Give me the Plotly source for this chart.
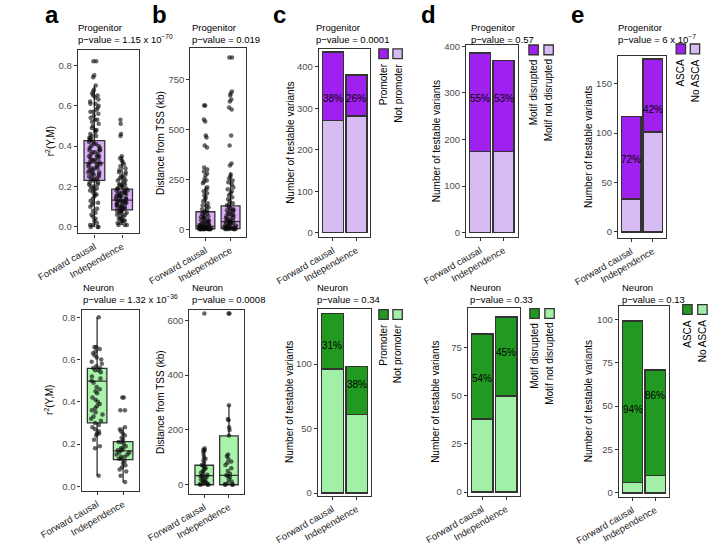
import plotly.graph_objects as go

W, H = 709, 546
FONT = "Liberation Sans, Arial, sans-serif"

cats = ["Forward causal", "Independence"]

# ---------------- panel a : r2(Y,M) ----------------
a_prog_fc = [0.82, 0.82, 0.75, 0.74, 0.70, 0.68, 0.67, 0.66, 0.65, 0.65, 0.64, 0.63, 0.62, 0.61, 0.61,
             0.60, 0.59, 0.58, 0.57, 0.57, 0.56, 0.55, 0.54, 0.53, 0.53, 0.52, 0.51, 0.50, 0.49, 0.48,
             0.48, 0.47, 0.46, 0.45, 0.45, 0.44, 0.43, 0.43, 0.42, 0.42, 0.41, 0.41, 0.40, 0.40, 0.39,
             0.39, 0.38, 0.38, 0.37, 0.37, 0.36, 0.36, 0.35, 0.35, 0.34, 0.34, 0.33, 0.33, 0.32, 0.32,
             0.31, 0.31, 0.30, 0.30, 0.29, 0.29, 0.28, 0.28, 0.27, 0.27, 0.26, 0.26, 0.25, 0.25, 0.24,
             0.24, 0.23, 0.23, 0.22, 0.21, 0.21, 0.20, 0.19, 0.19, 0.18, 0.17, 0.16, 0.16, 0.15, 0.14,
             0.13, 0.12, 0.11, 0.10, 0.09, 0.08, 0.07, 0.06, 0.04, 0.03, 0.02, 0.01, 0.00, 0.00, 0.00,
             0.44, 0.38, 0.35, 0.33, 0.31, 0.29, 0.27, 0.26, 0.24, 0.22, 0.20, 0.18, 0.12, 0.05, 0.01]
a_prog_ind = [0.53, 0.51, 0.46, 0.45, 0.35, 0.34, 0.33, 0.32, 0.31, 0.30, 0.29, 0.28, 0.27, 0.27, 0.26,
              0.25, 0.25, 0.24, 0.23, 0.23, 0.22, 0.21, 0.21, 0.20, 0.20, 0.19, 0.19, 0.18, 0.18, 0.18,
              0.17, 0.17, 0.17, 0.16, 0.16, 0.16, 0.15, 0.15, 0.15, 0.14, 0.14, 0.14, 0.13, 0.13, 0.13,
              0.13, 0.12, 0.12, 0.12, 0.11, 0.11, 0.11, 0.10, 0.10, 0.10, 0.09, 0.09, 0.09, 0.08, 0.08,
              0.08, 0.07, 0.07, 0.06, 0.06, 0.05, 0.05, 0.04, 0.04, 0.03, 0.03, 0.02, 0.02, 0.01, 0.01,
              0.24, 0.21, 0.19, 0.17, 0.15, 0.12, 0.10, 0.07, 0.03, 0.01]
a_neur_fc = [0.80, 0.66, 0.66, 0.65, 0.64, 0.63, 0.62, 0.61, 0.60, 0.59, 0.58, 0.57, 0.56, 0.56, 0.55,
             0.55, 0.54, 0.52, 0.51, 0.50, 0.49, 0.47, 0.46, 0.45, 0.44, 0.42, 0.41, 0.40, 0.39, 0.38,
             0.37, 0.36, 0.35, 0.34, 0.33, 0.32, 0.31, 0.30, 0.29, 0.28, 0.27, 0.26, 0.25, 0.25, 0.24,
             0.22, 0.19, 0.18, 0.05]
a_neur_ind = [0.42, 0.42, 0.36, 0.36, 0.28, 0.27, 0.26, 0.25, 0.24, 0.23, 0.22, 0.21, 0.21, 0.20, 0.19,
              0.18, 0.18, 0.17, 0.17, 0.16, 0.16, 0.15, 0.15, 0.14, 0.14, 0.13, 0.13, 0.12, 0.11, 0.10,
              0.09, 0.08, 0.07, 0.05, 0.02]
# box statistics: q1, median, q3, lower whisker, upper whisker
a_prog_stats = {"q1": [0.23, 0.084], "med": [0.317, 0.133], "q3": [0.427, 0.187], "lo": [0.0, 0.01], "hi": [0.70, 0.35]}
a_neur_stats = {"q1": [0.30, 0.126], "med": [0.498, 0.168], "q3": [0.558, 0.211], "lo": [0.049, 0.018], "hi": [0.80, 0.28]}

# ---------------- panel b : distance from TSS (kb) ----------------
b_prog_fc = [620, 620, 550, 540, 470, 460, 420, 410, 310, 300, 290, 280, 270, 255, 245, 240, 230,
             210, 200, 190, 180, 170, 160, 150, 140, 130, 120, 115, 110, 100, 95, 90, 85, 80, 75, 70,
             65, 60, 55, 50, 46, 42, 38, 35, 32, 29, 26, 23, 20, 18, 16, 14, 12, 11, 10, 9, 8, 7, 6,
             5, 4, 4, 3, 3, 2, 2, 1, 1, 0, 0, 0, 0, 60, 45, 30, 20, 12, 8, 5, 3, 1, 0]
b_prog_ind = [860, 860, 690, 680, 670, 650, 640, 610, 600, 470, 420, 330, 320, 275, 265, 255, 245,
              235, 225, 210, 200, 190, 180, 170, 160, 150, 140, 130, 125, 120, 112, 105, 100, 95, 90,
              85, 80, 75, 70, 65, 60, 55, 50, 46, 42, 39, 36, 33, 30, 27, 24, 21, 18, 15, 12, 10, 8,
              6, 5, 4, 3, 2, 1, 0, 0, 95, 70, 50, 35, 20, 10, 4, 1]
b_neur_fc = [625, 133, 128, 125, 120, 110, 100, 95, 88, 80, 72, 68, 64, 60, 55, 50, 45, 40, 36, 33,
             31, 29, 26, 22, 18, 15, 12, 9, 6, 4, 2, 1, 0, 0]
b_neur_ind = [625, 625, 290, 240, 235, 210, 200, 180, 110, 105, 95, 85, 80, 72, 60, 50, 40, 35, 32,
              28, 20, 12, 6, 2, 1, 0, 0]
b_prog_stats = {"q1": [2, 3], "med": [15, 39], "q3": [88, 117], "lo": [0, 0], "hi": [215, 285]}
b_neur_stats = {"q1": [0, 0], "med": [33, 34], "q3": [71, 178], "lo": [0, 0], "hi": [133, 290]}

# ---------------- panels c-e : counts (dark category, light category) ----------------
c_prog_dark, c_prog_light = [165, 99], [270, 281]
c_neur_dark, c_neur_light = [43, 37], [96, 61]
d_prog_dark, d_prog_light = [212, 196], [174, 174]
d_neur_dark, d_neur_light = [44, 41], [38, 50]
e_prog_dark, e_prog_light = [84, 74], [33, 101]
e_neur_dark, e_neur_light = [93, 61], [6, 10]
# y position (data units) where the percentage labels sit
c_prog_lab, c_neur_lab = [324, 324], [114, 84]
d_prog_lab, d_neur_lab = [288, 288], [59, 72.5]
e_prog_lab, e_neur_lab = [73, 124], [48, 56]

PURPLE, LPURPLE, BPURPLE = "#A020F0", "#D6BCF2", "#DCAEF7"
GREEN, LGREEN, BGREEN = "#229A22", "#A2EFA8", "#A8F2AA"
EDGE = "#333333"

fig = go.Figure()
annotations = []
shapes = []


def dx(l, r):
    return [l / W, r / W]


def dy(t, b):
    return [1 - b / H, 1 - t / H]


def setup_axes(i, box, yr, ticks, fmt=None):
    l, r, t, b = box
    xa = dict(domain=dx(l, r), anchor=f"y{i}", type="category", range=[-0.6, 1.6],
              showline=True, linecolor=EDGE, linewidth=1.3, mirror=True, ticks="outside",
              ticklen=3, tickcolor=EDGE, tickangle=-30, showgrid=False, zeroline=False,
              tickfont=dict(family=FONT, size=9.5, color="#1a1a1a"), categoryorder="array",
              categoryarray=cats)
    ya = dict(domain=dy(t, b), anchor=f"x{i}", range=yr, tickvals=ticks,
              showline=True, linecolor=EDGE, linewidth=1.3, mirror=True, ticks="outside",
              ticklen=3, tickcolor=EDGE, showgrid=False, zeroline=False,
              tickfont=dict(family=FONT, size=9.5, color="#4d4d4d"))
    if fmt:
        ya["tickformat"] = fmt
    key = "" if i == 1 else str(i)
    fig.update_layout(**{f"xaxis{key}": xa, f"yaxis{key}": ya})


def title(x, y, line1, line2):
    annotations.append(dict(xref="paper", yref="paper", x=x / W, y=1 - y / H, xanchor="left",
                            yanchor="top", align="left", showarrow=False,
                            text=f"{line1}<br>{line2}", font=dict(family=FONT, size=9.5, color="black")))


def ytitle(x, box, text):
    l, r, t, b = box
    annotations.append(dict(xref="paper", yref="paper", x=x / W, y=1 - (t + b) / 2 / H,
                            xanchor="center", yanchor="middle", textangle=-90, showarrow=False,
                            text=text, font=dict(family=FONT, size=10, color="black")))


def boxpanel(i, stats, fc, ind, fill):
    ax = "" if i == 1 else str(i)
    fig.add_trace(go.Box(x=cats, q1=stats["q1"], median=stats["med"], q3=stats["q3"],
                         lowerfence=stats["lo"], upperfence=stats["hi"], boxpoints=False,
                         fillcolor=fill, line=dict(color=EDGE, width=1.3), whiskerwidth=0,
                         width=0.75, xaxis=f"x{ax}", yaxis=f"y{ax}", showlegend=False,
                         hoverinfo="skip"))
    for c, vals in zip(cats, [fc, ind]):
        fig.add_trace(go.Box(x=[c] * len(vals), y=vals, boxpoints="all", jitter=0.7, pointpos=0,
                             fillcolor="rgba(0,0,0,0)", line=dict(color="rgba(0,0,0,0)", width=0),
                             width=0.75, marker=dict(color="rgba(10,10,10,0.62)", size=4.5),
                             xaxis=f"x{ax}", yaxis=f"y{ax}", showlegend=False, hoverinfo="skip"))


def barpanel(i, dark, light, lab, cdark, clight, names, leg):
    ax = "" if i == 1 else str(i)
    fig.add_trace(go.Bar(x=cats, y=light, marker=dict(color=clight, line=dict(color=EDGE, width=1.5)),
                         width=0.9, xaxis=f"x{ax}", yaxis=f"y{ax}", showlegend=False, hoverinfo="skip"))
    fig.add_trace(go.Bar(x=cats, y=dark, marker=dict(color=cdark, line=dict(color=EDGE, width=1.5)),
                         width=0.9, xaxis=f"x{ax}", yaxis=f"y{ax}", showlegend=False, hoverinfo="skip"))
    for c, d, l, yl in zip(cats, dark, light, lab):
        annotations.append(dict(xref=f"x{ax}", yref=f"y{ax}", x=c, y=yl, showarrow=False,
                                text=f"{round(100 * d / (d + l))}%",
                                font=dict(family=FONT, size=10, color="black")))
    # legend keys
    x1, x2, y0 = leg
    for xx, col, nm in zip([x1, x2], [cdark, clight], names):
        shapes.append(dict(type="rect", xref="paper", yref="paper", x0=xx / W, x1=(xx + 10) / W,
                           y0=1 - (y0 + 10) / H, y1=1 - y0 / H, fillcolor=col,
                           line=dict(color=EDGE, width=1.3)))
        annotations.append(dict(xref="paper", yref="paper", x=(xx + 5) / W, y=1 - (y0 + 13) / H,
                                xanchor="center", yanchor="top", textangle=-90, showarrow=False,
                                text=nm, font=dict(family=FONT, size=10, color="black")))


# panel geometry in pixels (left, right, top, bottom)
boxes = {
    1: (36, 101, 47, 235), 2: (156, 215, 45, 239), 3: (293, 348, 46, 239), 4: (450, 505, 42, 239),
    5: (612, 663, 53, 240), 6: (40, 101, 313, 499), 7: (155, 213, 313, 502), 8: (292, 349, 312, 504),
    9: (452, 508, 311, 504), 10: (613, 666, 309, 505),
}

setup_axes(1, boxes[1], [-0.032, 0.876], [0, 0.2, 0.4, 0.6, 0.8], ".1f")
setup_axes(2, boxes[2], [-40, 908], [0, 250, 500, 750])
setup_axes(3, boxes[3], [-11, 443], [0, 100, 200, 300, 400])
setup_axes(4, boxes[4], [-10, 403], [0, 100, 200, 300, 400])
setup_axes(5, boxes[5], [-6.6, 178.5], [0, 50, 100, 150])
setup_axes(6, boxes[6], [-0.023, 0.837], [0, 0.2, 0.4, 0.6, 0.8], ".1f")
setup_axes(7, boxes[7], [-34, 639], [0, 200, 400, 600])
setup_axes(8, boxes[8], [-2.3, 143], [0, 50, 100])
setup_axes(9, boxes[9], [-2, 95.8], [0, 25, 50, 75])
setup_axes(10, boxes[10], [-2.4, 108], [0, 25, 50, 75, 100])

boxpanel(1, a_prog_stats, a_prog_fc, a_prog_ind, BPURPLE)
boxpanel(2, b_prog_stats, b_prog_fc, b_prog_ind, BPURPLE)
boxpanel(6, a_neur_stats, a_neur_fc, a_neur_ind, BGREEN)
boxpanel(7, b_neur_stats, b_neur_fc, b_neur_ind, BGREEN)

barpanel(3, c_prog_dark, c_prog_light, c_prog_lab, PURPLE, LPURPLE, ["Promoter", "Not promoter"], (357, 372, 46))
barpanel(4, d_prog_dark, d_prog_light, d_prog_lab, PURPLE, LPURPLE, ["Motif disrupted", "Motif not disrupted"], (517, 533, 42))
barpanel(5, e_prog_dark, e_prog_light, e_prog_lab, PURPLE, LPURPLE, ["ASCA", "No ASCA"], (674, 689, 41))
barpanel(8, c_neur_dark, c_neur_light, c_neur_lab, GREEN, LGREEN, ["Promoter", "Not promoter"], (357, 372, 313))
barpanel(9, d_neur_dark, d_neur_light, d_neur_lab, GREEN, LGREEN, ["Motif disrupted", "Motif not disrupted"], (518, 534, 312))
barpanel(10, e_neur_dark, e_neur_light, e_neur_lab, GREEN, LGREEN, ["ASCA", "No ASCA"], (681, 697, 308))

# titles
title(34, 16, "Progenitor", "p−value = 1.15 x 10<sup>−70</sup>")
title(156, 16, "Progenitor", "p−value = 0.019")
title(288, 16, "Progenitor", "p−value = 0.0001")
title(453, 16, "Progenitor", "p−value = 0.57")
title(610, 16, "Progenitor", "p−value = 6 x 10<sup>−7</sup>")
title(39, 283, "Neuron", "p−value = 1.32 x 10<sup>−36</sup>")
title(156, 283, "Neuron", "p−value = 0.0008")
title(289, 283, "Neuron", "p−value = 0.34")
title(452, 283, "Neuron", "p−value = 0.33")
title(614, 283, "Neuron", "p−value = 0.13")

# y-axis titles
ytitle(6, boxes[1], "r<sup>2</sup>(Y,M)")
ytitle(124, boxes[2], "Distance from TSS (kb)")
ytitle(262, boxes[3], "Number of testable variants")
ytitle(418, boxes[4], "Number of testable variants")
ytitle(580, boxes[5], "Number of testable variants")
ytitle(6, boxes[6], "r<sup>2</sup>(Y,M)")
ytitle(125, boxes[7], "Distance from TSS (kb)")
ytitle(262, boxes[8], "Number of testable variants")
ytitle(418, boxes[9], "Number of testable variants")
ytitle(580, boxes[10], "Number of testable variants")

# panel letters
for letter, x in zip("abcde", [9, 123, 251, 410, 569]):
    annotations.append(dict(xref="paper", yref="paper", x=x / W, y=1 - 11 / H, xanchor="center",
                            yanchor="middle", showarrow=False, text=f"<b>{letter}</b>",
                            font=dict(family=FONT, size=24, color="black")))

fig.update_layout(width=W, height=H, margin=dict(l=0, r=0, t=0, b=0), paper_bgcolor="white",
                  plot_bgcolor="white", barmode="stack", boxmode="overlay", showlegend=False,
                  annotations=annotations, shapes=shapes, font=dict(family=FONT))

fig.write_html("out.html", config={"displayModeBar": False},
               post_script="document.body.style.margin='0px';")
